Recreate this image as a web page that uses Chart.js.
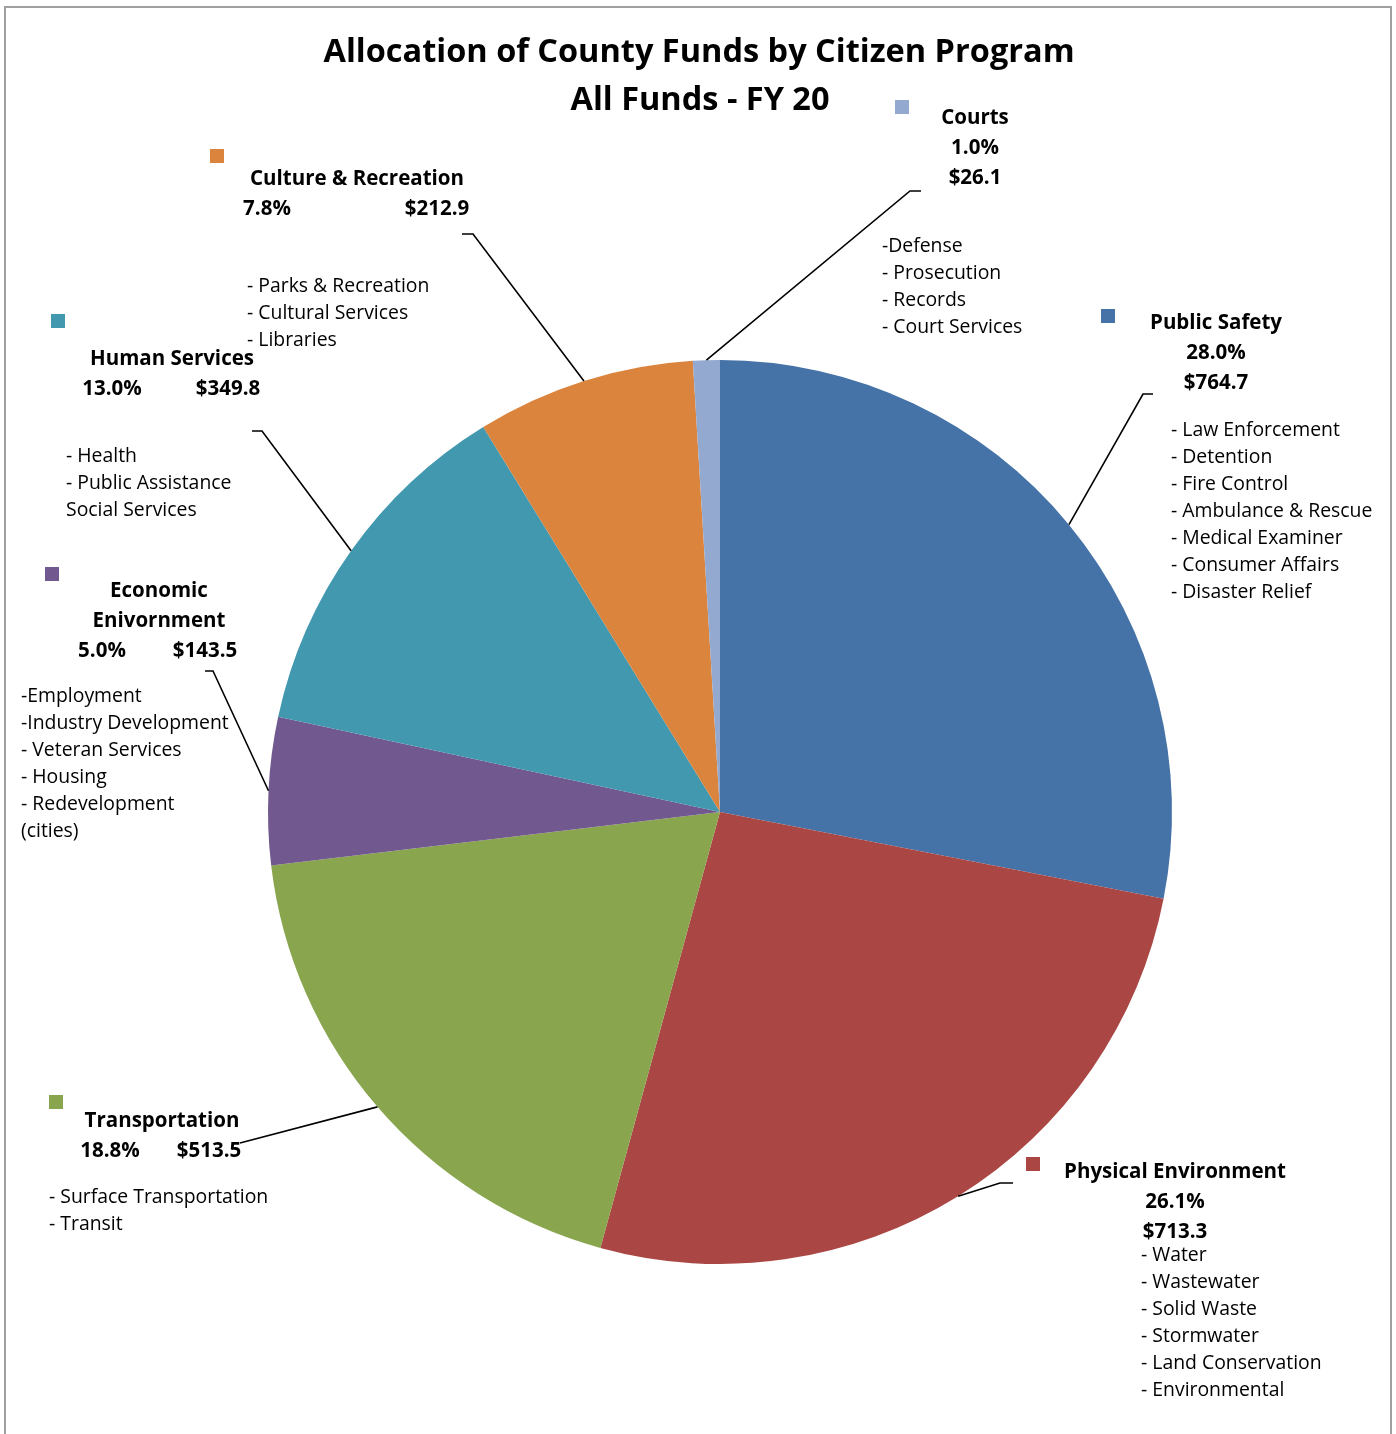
<!DOCTYPE html>
<html>
<head>
<meta charset="utf-8">
<script src="https://cdn.jsdelivr.net/npm/chart.js@4.4.1/dist/chart.umd.min.js"></script>
<style>
    html, body { margin: 0; padding: 0; background: #fff; }
    #wrap { position: relative; width: 1396px; height: 1434px; }
</style>
</head>
<body>
<div id="wrap"><canvas id="chart-funds"></canvas></div>
<script>
// Data ($ millions), clockwise from 12 o'clock
const categories = [
    "Public Safety", "Physical Environment", "Transportation",
    "Economic Enivornment", "Human Services", "Culture & Recreation", "Courts"
];
const amounts  = [764.7, 713.3, 513.5, 143.5, 349.8, 212.9, 26.1];
const percents = [28.0, 26.1, 18.8, 5.0, 13.0, 7.8, 1.0];
const programs = [
    ["- Law Enforcement", "- Detention", "- Fire Control", "- Ambulance & Rescue", "- Medical Examiner", "- Consumer Affairs", "- Disaster Relief"],
    ["- Water", "- Wastewater", "- Solid Waste", "- Stormwater", "- Land Conservation", "- Environmental"],
    ["- Surface Transportation", "- Transit"],
    ["-Employment", "-Industry Development", "- Veteran Services", "- Housing", "- Redevelopment", "(cities)"],
    ["- Health", "- Public Assistance", "Social Services"],
    ["- Parks & Recreation", "- Cultural Services", "- Libraries"],
    ["-Defense", "- Prosecution", "- Records", "- Court Services"]
];
const colors = ["#4572a7", "#aa4643", "#89a54e", "#71588f", "#4198af", "#db843d", "#93a9cf"];

const FONT = "'Open Sans', Lato, sans-serif";
const TEXT_DY = 2; // Open Sans sits a touch high with "middle" baseline
const pct = v => v.toFixed(1) + "%";
const money = v => "$" + v.toFixed(1);

// label placement: marker box, heading lines [text, cx, cy], bullet block, leader elbow
const labelLayout = [
    { marker: [1101, 309], head: i => [[categories[i], 1216, 321], [pct(percents[i]), 1216, 351], [money(amounts[i]), 1216, 381]],
      bullets: [1171, 428], elbow: [1143, 394], tail: 1153 },
    { marker: [1026, 1157], head: i => [["Physical Environment", 1175, 1170], [pct(percents[i]), 1175, 1200], [money(amounts[i]), 1175, 1230]],
      bullets: [1141, 1253], elbow: [1000, 1183], tail: 1013 },
    { marker: [49, 1095], head: i => [[categories[i], 162, 1119], [pct(percents[i]), 110, 1149], [money(amounts[i]), 209, 1149]],
      bullets: [49, 1195], elbow: [240, 1143], tail: 240 },
    { marker: [45, 567], head: i => [["Economic", 159, 589], ["Enivornment", 159, 619], [pct(percents[i]), 102, 649], [money(amounts[i]), 205, 649]],
      bullets: [21, 694], elbow: [213, 671], tail: 205 },
    { marker: [51, 314], head: i => [[categories[i], 172, 357], [pct(percents[i]), 112, 387], [money(amounts[i]), 228, 387]],
      bullets: [66, 454], elbow: [262, 431], tail: 252 },
    { marker: [210, 149], head: i => [[categories[i], 357, 177], [pct(percents[i]), 267, 207], [money(amounts[i]), 437, 207]],
      bullets: [247, 284], elbow: [473, 234], tail: 462 },
    { marker: [895, 100], head: i => [[categories[i], 975, 116], [pct(percents[i]), 975, 146], [money(amounts[i]), 975, 176]],
      bullets: [882, 244], elbow: [910, 191], tail: 921 }
];

const calloutPlugin = {
    id: "callouts",
    afterDraw(chart) {
        const ctx = chart.ctx;
        const meta = chart.getDatasetMeta(0);
        ctx.save();

        // outer frame (bottom edge runs off the picture)
        ctx.strokeStyle = "#a0a0a0";
        ctx.lineWidth = 2;
        ctx.beginPath();
        ctx.moveTo(5, 1440); ctx.lineTo(5, 7); ctx.lineTo(1391, 7); ctx.lineTo(1391, 1440);
        ctx.stroke();

        // title
        ctx.fillStyle = "#000";
        ctx.textAlign = "center";
        ctx.textBaseline = "middle";
        ctx.font = "bold 32.5px " + FONT;
        ctx.fillText("Allocation of County Funds by Citizen Program", 699, 51 + TEXT_DY);
        ctx.fillText("All Funds - FY 20", 700, 99 + TEXT_DY);

        labelLayout.forEach((lab, i) => {
            // leader line from the slice's mid-angle on the rim
            const arc = meta.data[i];
            const p = arc.getProps(["x", "y", "startAngle", "endAngle", "outerRadius"], true);
            const mid = (p.startAngle + p.endAngle) / 2;
            const sx = p.x + Math.cos(mid) * p.outerRadius;
            const sy = p.y + Math.sin(mid) * p.outerRadius;
            ctx.strokeStyle = "#000";
            ctx.lineWidth = 1.6;
            ctx.beginPath();
            ctx.moveTo(sx, sy);
            ctx.lineTo(lab.elbow[0], lab.elbow[1]);
            ctx.lineTo(lab.tail, lab.elbow[1]);
            ctx.stroke();

            ctx.fillStyle = colors[i];
            ctx.fillRect(lab.marker[0], lab.marker[1], 14, 14);

            ctx.fillStyle = "#000";
            ctx.textAlign = "center";
            ctx.font = "bold 20.5px " + FONT;
            lab.head(i).forEach(([t, x, y]) => ctx.fillText(t, x, y + TEXT_DY));

            ctx.textAlign = "left";
            ctx.font = "19.4px " + FONT;
            programs[i].forEach((t, k) => ctx.fillText(t, lab.bullets[0], lab.bullets[1] + k * 27 + TEXT_DY));
        });
        ctx.restore();
    }
};

new Chart(document.getElementById("chart-funds"), {
    type: "pie",
    data: {
        labels: categories,
        datasets: [{
            data: amounts,
            backgroundColor: colors,
            borderWidth: 0
        }]
    },
    options: {
        responsive: true, maintainAspectRatio: false,
        animation: false,
        layout: { padding: { left: 268, right: 224, top: 360, bottom: 170 } },
        plugins: {
            legend: { display: false },
            tooltip: { enabled: false }
        }
    },
    plugins: [calloutPlugin]
});
</script>
</body>
</html>
